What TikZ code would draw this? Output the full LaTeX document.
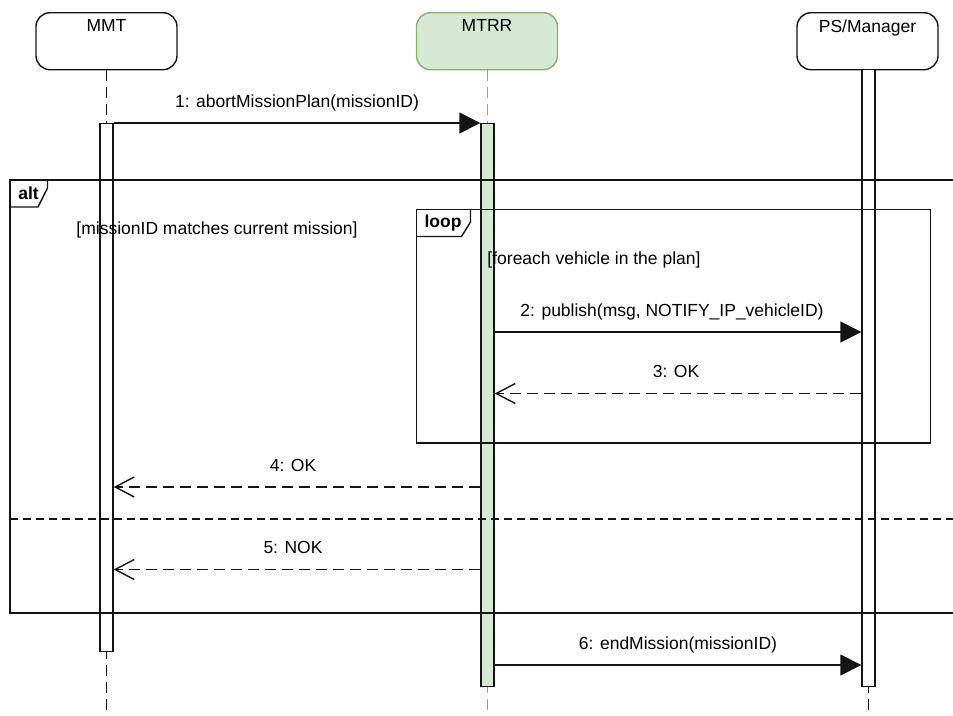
\documentclass[tikz,border=0pt]{standalone}
\usepackage{fontspec}
\setmainfont{Liberation Sans}
\usetikzlibrary{arrows.meta}
\definecolor{gfill}{HTML}{D5E8D4}
\definecolor{gline}{HTML}{82B366}
\definecolor{ink}{HTML}{141414}

\begin{document}
\begin{tikzpicture}[x=1pt,y=-1pt,
  font=\fontsize{17.5}{20}\selectfont,
  line width=1.4pt, draw=ink,
  head/.style={draw, rounded corners=14pt, minimum width=141pt,
    minimum height=57pt, anchor=north, inner sep=0pt, fill=white},
  headtxt/.style={anchor=north, inner sep=0pt, yshift=-7pt},
  lifeline/.style={dash pattern=on 11pt off 6pt},
  bar/.style={draw, fill=white, minimum width=13pt, anchor=north, inner sep=0pt},
  sync/.style={-{Triangle[length=21pt,width=21pt]}},
  reply/.style={dash pattern=on 11pt off 6pt, -{Straight Barb[length=19pt,width=20pt,line width=1.4pt]}},
  msg/.style={above=9.5pt, inner sep=2pt, text height=12.5pt, text depth=3.5pt},
  guard/.style={inner sep=0pt},
  framelbl/.style={inner sep=0pt, font=\fontsize{17.5}{20}\selectfont\bfseries}
]
\useasboundingbox (0,0) rectangle (953,715);

% participants
\node[head] (mmt) at (106.5,12) {};
\node[headtxt] at (mmt.north) {MMT};
\node[head, fill=gfill, draw=gline] (mtrr) at (487,12) {};
\node[headtxt] at (mtrr.north) {MTRR};
\node[head] (ps) at (867.5,12) {};
\node[headtxt] at (ps.north) {PS/Manager};

% lifelines
\coordinate (mmtend) at (106.5,715);
\coordinate (mtrrend) at (487.5,715);
\coordinate (psend) at (868.5,715);
\draw[lifeline] (mmt.south) -- (mmtend);
\draw[lifeline, draw=gline, line width=1pt] (mtrr.south -| mtrrend) -- (mtrrend);
\draw[lifeline] (ps.south -| psend) -- (psend);

% activation bars
\node[bar, minimum height=528pt] (mmtbar) at (106.5,123) {};
\node[bar, fill=gfill, minimum height=563pt] (mtrrbar) at (487.5,123) {};
\node[bar, minimum height=617pt] (psbar) at (868.5,69) {};

% alt fragment
\draw (10,180) rectangle (965,613);
\draw (10,207) -- (38,207) -- (47.5,188) -- (47.5,180);
\node[framelbl] (altlbl) at (28.5,193) {alt};
\node[guard] (g1) at (217,230) {[missionID matches current mission]};
\draw[dash pattern=on 8pt off 5pt] (10,519) -- (965,519);

% loop fragment
\draw (416.5,209.5) rectangle (930.5,443);
\draw (416.5,236.5) -- (461.5,236.5) -- (470.5,222) -- (470.5,209.5);
\node[framelbl] (looplbl) at (443,222.5) {loop};
\node[guard] (g2) at (594,260) {[foreach vehicle in the plan]};

% messages
\draw[sync] (mmtbar.east |- 0,123) -- node[msg] {1: abortMissionPlan(missionID)} (mtrrbar.west |- 0,123);
\draw[sync] (mtrrbar.east |- 0,332) -- node[msg, xshift=-6pt] {2: publish(msg, NOTIFY\_IP\_vehicleID)} (psbar.west |- 0,332);
\draw[reply] (psbar.west |- 0,393.5) -- node[msg, xshift=-2pt] {3: OK} (mtrrbar.east |- 0,393.5);
\draw[reply] (mtrrbar.west |- 0,487) -- node[msg, xshift=-4pt] {4: OK} (mmtbar.east |- 0,487);
\draw[reply] (mtrrbar.west |- 0,569.5) -- node[msg, xshift=-4pt] {5: NOK} (mmtbar.east |- 0,569.5);
\draw[sync] (mtrrbar.east |- 0,665) -- node[msg] {6: endMission(missionID)} (psbar.west |- 0,665);
\end{tikzpicture}
\end{document}
